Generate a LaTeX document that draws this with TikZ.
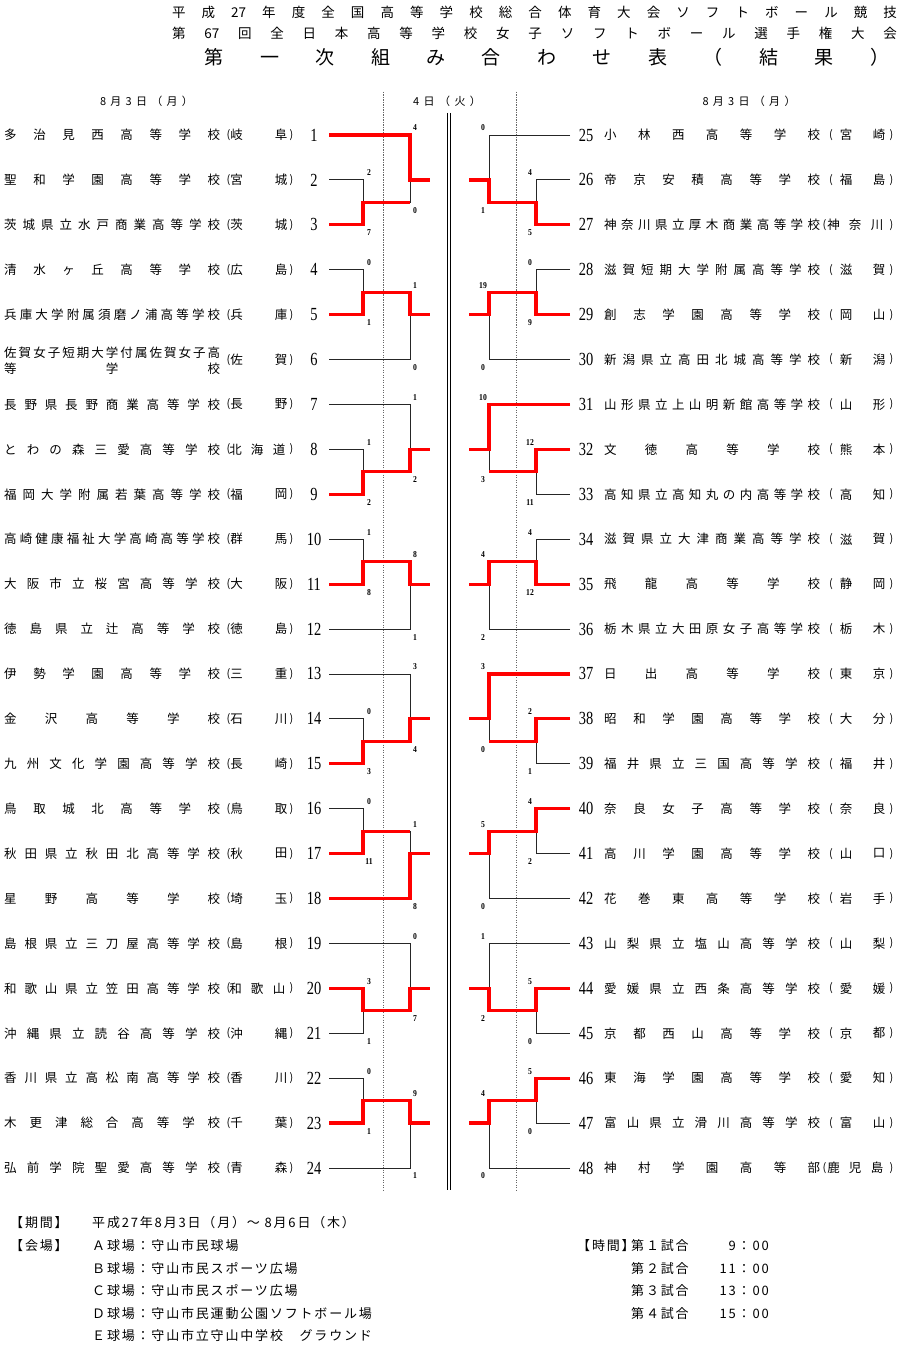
\documentclass[tikz,border=0pt]{standalone}
\usepackage{fontspec}
\setmainfont{Noto Sans CJK JP}
\newfontfamily\numf[FakeStretch=0.78]{Liberation Serif}
\newfontfamily\scf[FakeStretch=0.85]{Liberation Serif Bold}
\newfontfamily\ftf[LetterSpace=14]{Noto Sans CJK JP}
\makeatletter
\def\spr@end{\spr@end}
\newcommand\spr[2]{\makebox[#1][s]{\spr@a#2\spr@end}}
\def\spr@a#1{#1\spr@b}
\def\spr@b#1{\ifx\spr@end#1\else\hfil#1\expandafter\spr@b\fi}
\makeatother
% bracket group: #1 side L/R, #2 first row (1..22), #3 B (pair at bottom) / T (pair at top),
% #4 pair winner 1/2, #5 final winner S/P, #6 #7 pair scores, #8 #9 final scores (upper, lower)
\newcommand\grp[9]{%
  \ifx L#1\def\xA{329}\def\xB{363}\def\xC{410}\def\xD{430}\def\xs{369}\def\xt{415}%
  \else\def\xA{570}\def\xB{536}\def\xC{489}\def\xD{469}\def\xs{530}\def\xt{483}\fi
  \pgfmathsetmacro\gYa{135+(#2-1)*44.913}%
  \pgfmathsetmacro\gYb{\gYa+44.913}%
  \pgfmathsetmacro\gYc{\gYb+44.913}%
  \if B#3\let\gYs\gYa\let\gYp\gYb\let\gYq\gYc
  \else\let\gYs\gYc\let\gYp\gYa\let\gYq\gYb\fi
  \pgfmathsetmacro\gYm{(\gYp+\gYq)/2}%
  \ifnum#4=1 \let\gYw\gYp\else\let\gYw\gYq\fi
  \draw[thinln] (\xA,\gYs) -- (\xC,\gYs) -- (\xC,\gYm) -- (\xB,\gYm);
  \draw[thinln] (\xA,\gYp) -- (\xB,\gYp) -- (\xB,\gYq) -- (\xA,\gYq);
  \draw[thinln] (\xC,\gYb) -- (\xD,\gYb);
  \if S#5
    \draw[win] (\xA,\gYw) -- (\xB,\gYw) -- (\xB,\gYm) -- (\xC,\gYm);
    \draw[win] (\xA,\gYs) -- (\xC,\gYs) -- (\xC,\gYb) -- (\xD,\gYb);
  \else
    \draw[win] (\xA,\gYw) -- (\xB,\gYw) -- (\xB,\gYm) -- (\xC,\gYm) -- (\xC,\gYb) -- (\xD,\gYb);
  \fi
  \node[sc] (s#1#2a) at (\xs,\gYp-7) {#6};
  \node[sc] (s#1#2b) at (\xs,\gYq+8) {#7};
  \if B#3
    \node[sc] (s#1#2c) at (\xt,\gYa-7) {#8};
    \node[sc] (s#1#2d) at (\xt,\gYm+8) {#9};
  \else
    \node[sc] (s#1#2c) at (\xt,\gYm-7) {#8};
    \node[sc] (s#1#2d) at (\xt,\gYc+8) {#9};
  \fi
}
% left team: #1 number, #2 name, #3 #4 #5 prefecture chars
\newcommand\tmL[5]{%
  \pgfmathsetmacro\ty{135+(#1-1)*44.913}%
  \node[nm,anchor=west] (nL#1) at (4,\ty) {\spr{216pt}{#2}};
  \node[pp] (oL#1) at (228.5,\ty) {(};
  \ifx\relax#5\relax
    \node[nm] (pL#1a) at (236.5,\ty) {#3};
    \node[nm] (pL#1b) at (281,\ty) {#4};
  \else
    \node[nm] (pL#1a) at (235.5,\ty) {#3};
    \node[nm] (pL#1b) at (257,\ty) {#4};
    \node[nm] (pL#1c) at (279,\ty) {#5};
  \fi
  \node[pp] (cL#1) at (291.5,\ty) {)};
  \node[num] (kL#1) at (314,\ty) {#1};
}
\newcommand\tmR[5]{%
  \pgfmathsetmacro\ty{135+(#1-25)*44.913}%
  \node[num] (kR#1) at (586,\ty) {#1};
  \node[nm,anchor=west] (nR#1) at (604,\ty) {\spr{216pt}{#2}};
  \ifx\relax#5\relax
    \node[pp] (oR#1) at (831,\ty) {(};
    \node[nm] (pR#1a) at (846,\ty) {#3};
    \node[nm] (pR#1b) at (879,\ty) {#4};
  \else
    \node[pp] (oR#1) at (824.5,\ty) {(};
    \node[nm] (pR#1a) at (833.5,\ty) {#3};
    \node[nm] (pR#1b) at (855,\ty) {#4};
    \node[nm] (pR#1c) at (877,\ty) {#5};
  \fi
  \node[pp] (cR#1) at (891.5,\ty) {)};
}
\begin{document}
\begin{tikzpicture}[x=1pt,y=-1pt,
  thinln/.style={black!85,line width=0.9pt},
  win/.style={red,line width=3.2pt,line join=miter},
  nm/.style={inner sep=0pt,font=\fontsize{12.5}{12.5}\selectfont},
  pp/.style={inner sep=0pt,font=\fontsize{11}{11}\selectfont},
  num/.style={inner sep=0pt,font=\numf\fontsize{18.5}{18.5}\selectfont},
  sc/.style={inner sep=0pt,font=\scf\fontsize{9}{9}\selectfont},
  hd/.style={inner sep=0pt,font=\fontsize{13.5}{14}\selectfont},
  dt/.style={inner sep=0pt,font=\fontsize{11}{12}\selectfont},
  ft/.style={inner sep=0pt,anchor=west,font=\ftf\fontsize{13}{14}\selectfont},
  dotln/.style={black!60,line width=0.8pt,dash pattern=on 1.2pt off 1.3pt}]
\fill[white] (0,0) rectangle (900,1348);
\useasboundingbox (0,0) rectangle (900,1348);
% header
\node[hd] (h1) at (534.5,12) {\spr{725pt}{平成{27}年度全国高等学校総合体育大会ソフトボール競技}};
\node[hd] (h2) at (534.5,33) {\spr{725pt}{第{67}回全日本高等学校女子ソフトボール選手権大会}};
\node[inner sep=0pt,font=\fontsize{19}{20}\selectfont] (h3) at (547,57) {\spr{685pt}{第一次組み合わせ表（結果）}};
\node[dt] (d1) at (146.5,101) {\spr{93pt}{8月3日（月）}};
\node[dt] (d2) at (447,101) {\spr{68pt}{4日（火）}};
\node[dt] (d3) at (749,101) {\spr{93pt}{8月3日（月）}};
% guide lines
\coordinate (g1a) at (383,92); \coordinate (g1b) at (383,1190);
\coordinate (g2a) at (516,92); \coordinate (g2b) at (516,1190);
\draw[dotln] (g1a) -- (g1b);
\draw[dotln] (g2a) -- (g2b);
\coordinate (m1a) at (447.5,113); \coordinate (m1b) at (447.5,1190);
\coordinate (m2a) at (450.8,113); \coordinate (m2b) at (450.8,1190);
\draw[black,line width=1pt] (m1a) -- (m1b);
\draw[black,line width=1pt] (m2a) -- (m2b);
% brackets
\grp{L}{1}{B}{2}{S}{2}{7}{4}{0}
\grp{L}{4}{T}{2}{P}{0}{1}{1}{0}
\grp{L}{7}{B}{2}{P}{1}{2}{1}{2}
\grp{L}{10}{T}{2}{P}{1}{8}{8}{1}
\grp{L}{13}{B}{2}{P}{0}{3}{3}{4}
\grp{L}{16}{T}{2}{S}{0}{11}{1}{8}
\grp{L}{19}{B}{1}{P}{3}{1}{0}{7}
\grp{L}{22}{T}{2}{P}{0}{1}{9}{1}
\grp{R}{1}{B}{2}{P}{4}{5}{0}{1}
\grp{R}{4}{T}{2}{P}{0}{9}{19}{0}
\grp{R}{7}{B}{1}{S}{12}{11}{10}{3}
\grp{R}{10}{T}{2}{P}{4}{12}{4}{2}
\grp{R}{13}{B}{1}{S}{2}{1}{3}{0}
\grp{R}{16}{T}{1}{P}{4}{2}{5}{0}
\grp{R}{19}{B}{1}{P}{5}{0}{1}{2}
\grp{R}{22}{T}{1}{P}{5}{0}{4}{0}
% left teams
\tmL{1}{多治見西高等学校}{岐}{阜}{}
\tmL{2}{聖和学園高等学校}{宮}{城}{}
\tmL{3}{茨城県立水戸商業高等学校}{茨}{城}{}
\tmL{4}{清水ヶ丘高等学校}{広}{島}{}
\tmL{5}{兵庫大学附属須磨ノ浦高等学校}{兵}{庫}{}
\node[nm,anchor=west] (nL6a) at (4,352.5) {\spr{216pt}{佐賀女子短期大学付属佐賀女子高}};
\node[nm,anchor=west] (nL6b) at (4,369) {\spr{216pt}{等学校}};
\node[pp] (oL6) at (228.5,359.6) {(};
\node[nm] (pL6a) at (236.5,359.6) {佐};
\node[nm] (pL6b) at (281,359.6) {賀};
\node[pp] (cL6) at (291.5,359.6) {)};
\node[num] (kL6) at (314,359.6) {6};
\tmL{7}{長野県長野商業高等学校}{長}{野}{}
\tmL{8}{とわの森三愛高等学校}{北}{海}{道}
\tmL{9}{福岡大学附属若葉高等学校}{福}{岡}{}
\tmL{10}{高崎健康福祉大学高崎高等学校}{群}{馬}{}
\tmL{11}{大阪市立桜宮高等学校}{大}{阪}{}
\tmL{12}{徳島県立辻高等学校}{徳}{島}{}
\tmL{13}{伊勢学園高等学校}{三}{重}{}
\tmL{14}{金沢高等学校}{石}{川}{}
\tmL{15}{九州文化学園高等学校}{長}{崎}{}
\tmL{16}{鳥取城北高等学校}{鳥}{取}{}
\tmL{17}{秋田県立秋田北高等学校}{秋}{田}{}
\tmL{18}{星野高等学校}{埼}{玉}{}
\tmL{19}{島根県立三刀屋高等学校}{島}{根}{}
\tmL{20}{和歌山県立笠田高等学校}{和}{歌}{山}
\tmL{21}{沖縄県立読谷高等学校}{沖}{縄}{}
\tmL{22}{香川県立高松南高等学校}{香}{川}{}
\tmL{23}{木更津総合高等学校}{千}{葉}{}
\tmL{24}{弘前学院聖愛高等学校}{青}{森}{}
% right teams
\tmR{25}{小林西高等学校}{宮}{崎}{}
\tmR{26}{帝京安積高等学校}{福}{島}{}
\tmR{27}{神奈川県立厚木商業高等学校}{神}{奈}{川}
\tmR{28}{滋賀短期大学附属高等学校}{滋}{賀}{}
\tmR{29}{創志学園高等学校}{岡}{山}{}
\tmR{30}{新潟県立高田北城高等学校}{新}{潟}{}
\tmR{31}{山形県立上山明新館高等学校}{山}{形}{}
\tmR{32}{文徳高等学校}{熊}{本}{}
\tmR{33}{高知県立高知丸の内高等学校}{高}{知}{}
\tmR{34}{滋賀県立大津商業高等学校}{滋}{賀}{}
\tmR{35}{飛龍高等学校}{静}{岡}{}
\tmR{36}{栃木県立大田原女子高等学校}{栃}{木}{}
\tmR{37}{日出高等学校}{東}{京}{}
\tmR{38}{昭和学園高等学校}{大}{分}{}
\tmR{39}{福井県立三国高等学校}{福}{井}{}
\tmR{40}{奈良女子高等学校}{奈}{良}{}
\tmR{41}{高川学園高等学校}{山}{口}{}
\tmR{42}{花巻東高等学校}{岩}{手}{}
\tmR{43}{山梨県立塩山高等学校}{山}{梨}{}
\tmR{44}{愛媛県立西条高等学校}{愛}{媛}{}
\tmR{45}{京都西山高等学校}{京}{都}{}
\tmR{46}{東海学園高等学校}{愛}{知}{}
\tmR{47}{富山県立滑川高等学校}{富}{山}{}
\tmR{48}{神村学園高等部}{鹿}{児}{島}
% footer
\node[ft] (fa0) at (10,1223) {【期間】};
\node[ft] (fa1) at (92,1223) {平成27年8月3日（月）～ 8月6日（木）};
\node[ft] (fb0) at (10,1246) {【会場】};
\node[ft] (fb1) at (92,1246) {Ａ球場：守山市民球場};
\node[ft] (fb2) at (92,1268.5) {Ｂ球場：守山市民スポーツ広場};
\node[ft] (fb3) at (92,1291) {Ｃ球場：守山市民スポーツ広場};
\node[ft] (fb4) at (92,1313.5) {Ｄ球場：守山市民運動公園ソフトボール場};
\node[ft] (fb5) at (92,1336) {Ｅ球場：守山市立守山中学校　グラウンド};
\node[ft] (fc0) at (577,1246) {【時間】};
\node[ft] (fc1) at (631,1246) {第１試合};
\node[ft] (fc2) at (631,1268.5) {第２試合};
\node[ft] (fc3) at (631,1291) {第３試合};
\node[ft] (fc4) at (631,1313.5) {第４試合};
\node[ft,anchor=east] (fd1) at (769,1246) {9：00};
\node[ft,anchor=east] (fd2) at (769,1268.5) {11：00};
\node[ft,anchor=east] (fd3) at (769,1291) {13：00};
\node[ft,anchor=east] (fd4) at (769,1313.5) {15：00};
\end{tikzpicture}
\end{document}
